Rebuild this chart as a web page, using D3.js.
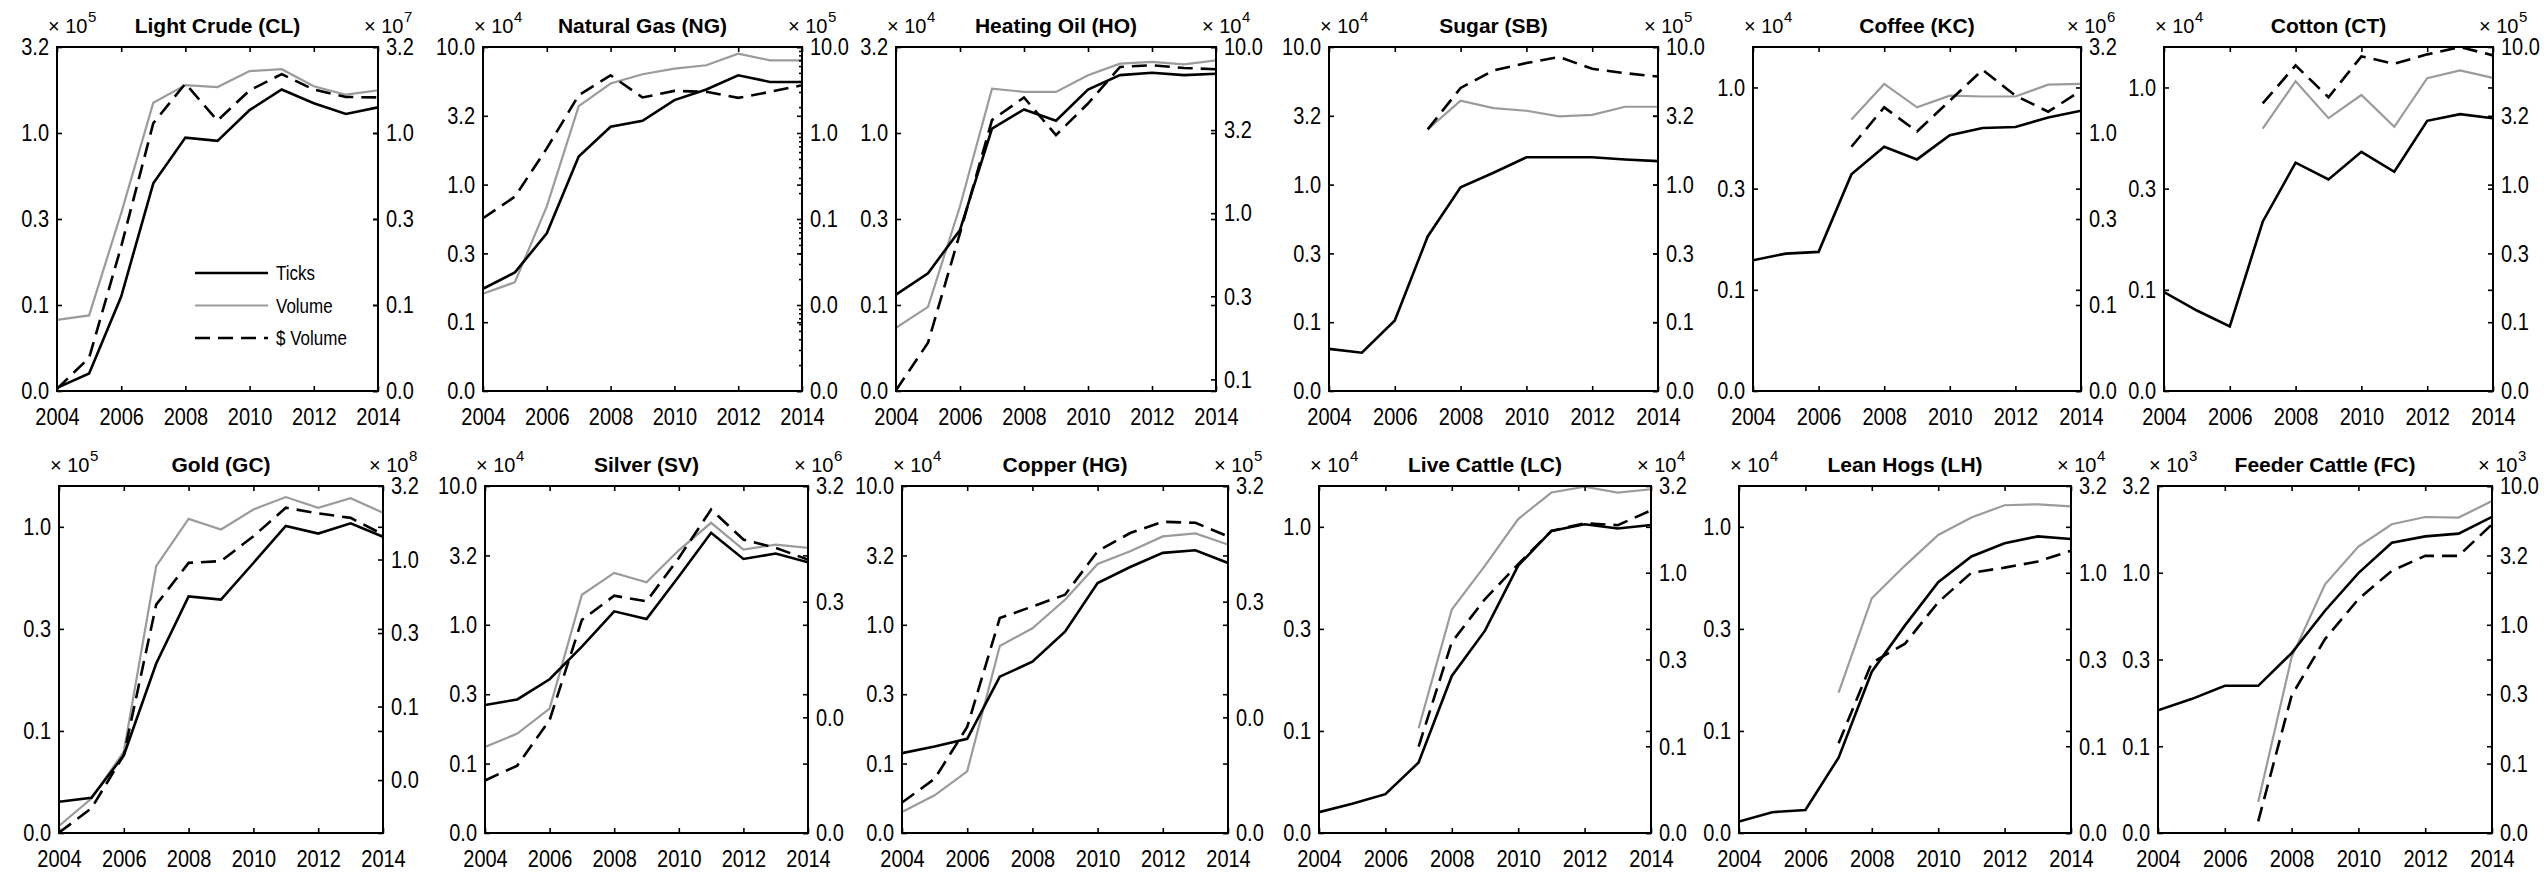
<!DOCTYPE html>
<html>
<head>
<meta charset="utf-8">
<script src="https://cdn.jsdelivr.net/npm/d3@7"></script>
<style>
  body { margin: 0; background: #fff; }
  svg { font-family: "Liberation Sans", Arial, sans-serif; }
  .lbl { transform: scaleY(1.2); transform-box: fill-box; transform-origin: 50% 50%; }
</style>
</head>
<body>
<div id="chart"></div>
<script>
// years on the x axis
const years = d3.range(2004, 2015)
const xTicks = [2004, 2006, 2008, 2010, 2012, 2014]

const titles = ["Light Crude (CL)", "Natural Gas (NG)", "Heating Oil (HO)", "Sugar (SB)", "Coffee (KC)", "Cotton (CT)",
                "Gold (GC)", "Silver (SV)", "Copper (HG)", "Live Cattle (LC)", "Lean Hogs (LH)", "Feeder Cattle (FC)"]

// "x 10^n" multipliers of each axis
const leftPow  = [5, 4, 4, 4, 4, 4, 5, 4, 4, 4, 4, 3]
const rightPow = [7, 5, 4, 5, 6, 5, 8, 6, 5, 4, 4, 3]

// axis limits as log10 of the axis units
const leftLog  = [[-1.5, 0.5], [-1.5, 1], [-1.5, 0.5], [-1.5, 1], [-1.5, 0.2], [-1.5, 0.2],
                  [-1.5, 0.2], [-1.5, 1], [-1.5, 1], [-1.5, 0.2], [-1.5, 0.2], [-1.5, 0.5]]
const rightLog = [[-1.5, 0.5], [-3, 1], [-1.07, 1], [-1.5, 1], [-1.5, 0.5], [-1.5, 1],
                  [-1.86, 0.5], [-2.5, 0.5], [-2.5, 0.5], [-1.5, 0.5], [-1.5, 0.5], [-1.5, 1]]
// spacing of the right tick labels (log10)
const rightStep = [0.5, 1, 0.5, 0.5, 0.5, 0.5, 0.5, 1, 1, 0.5, 0.5, 0.5]

// Ticks (left axis units)
const ticks = [
  [0.033, 0.040, 0.112, 0.51, 0.94, 0.90, 1.36, 1.79, 1.49, 1.29, 1.41],
  [0.175, 0.23, 0.443, 1.60, 2.63, 2.91, 4.11, 4.91, 6.23, 5.57, 5.57],
  [0.115, 0.153, 0.273, 1.06, 1.37, 1.18, 1.79, 2.17, 2.24, 2.17, 2.21],
  [0.064, 0.060, 0.103, 0.42, 0.955, 1.22, 1.58, 1.58, 1.58, 1.52, 1.48],
  [0.140, 0.151, 0.154, 0.372, 0.509, 0.441, 0.581, 0.630, 0.638, 0.711, 0.767],
  [0.0975, 0.079, 0.066, 0.217, 0.425, 0.351, 0.481, 0.383, 0.684, 0.738, 0.705],
  [0.045, 0.047, 0.076, 0.214, 0.456, 0.440, 0.665, 1.01, 0.927, 1.04, 0.894],
  [0.264, 0.290, 0.405, 0.697, 1.25, 1.10, 2.23, 4.60, 2.98, 3.26, 2.82],
  [0.119, 0.133, 0.151, 0.423, 0.542, 0.893, 2.00, 2.61, 3.30, 3.44, 2.79],
  [0.040, 0.044, 0.049, 0.070, 0.186, 0.310, 0.646, 0.955, 1.03, 0.982, 1.02],
  [0.036, 0.040, 0.041, 0.074, 0.195, 0.329, 0.535, 0.716, 0.830, 0.898, 0.871],
  [0.161, 0.187, 0.223, 0.223, 0.344, 0.604, 0.995, 1.49, 1.62, 1.68, 2.10]
]

// Volume (right axis units)
const volume = [
  [0.082, 0.087, 0.342, 1.50, 1.90, 1.85, 2.29, 2.35, 1.87, 1.67, 1.77],
  [0.0135, 0.0184, 0.140, 2.05, 3.76, 4.82, 5.61, 6.13, 8.37, 7.0, 7.0],
  [0.204, 0.273, 1.10, 5.62, 5.37, 5.37, 6.76, 7.94, 8.13, 7.87, 8.32],
  [null, null, null, 2.52, 4.07, 3.60, 3.44, 3.13, 3.21, 3.68, 3.68],
  [null, null, null, 1.20, 1.93, 1.41, 1.65, 1.63, 1.63, 1.91, 1.93],
  [null, null, null, 2.55, 5.64, 3.04, 4.48, 2.63, 5.93, 6.75, 5.97],
  [0.0154, 0.0237, 0.0493, 0.901, 1.89, 1.60, 2.19, 2.66, 2.25, 2.61, 2.08],
  [0.0175, 0.0229, 0.0377, 0.363, 0.560, 0.465, 0.879, 1.52, 0.891, 0.984, 0.923],
  [0.0048, 0.0067, 0.0108, 0.131, 0.186, 0.328, 0.670, 0.863, 1.16, 1.23, 0.986],
  [null, null, null, 0.127, 0.614, 1.10, 2.04, 2.90, 3.13, 2.90, 3.03],
  [null, null, null, 0.204, 0.713, 1.10, 1.65, 2.08, 2.45, 2.48, 2.41],
  [null, null, null, 0.0528, 0.583, 1.96, 3.66, 5.30, 5.98, 5.92, 7.80]
]

// $ Volume (right axis units)
const dollarVolume = [
  [0.0326, 0.0493, 0.219, 1.14, 1.94, 1.18, 1.77, 2.20, 1.79, 1.62, 1.61],
  [0.102, 0.182, 0.662, 2.75, 4.69, 2.59, 3.09, 3.01, 2.56, 3.01, 3.59],
  [0.086, 0.166, 0.759, 3.63, 4.97, 2.95, 4.57, 7.59, 7.76, 7.48, 7.35],
  [null, null, null, 2.52, 5.04, 6.75, 7.64, 8.45, 6.94, 6.45, 6.10],
  [null, null, null, 0.832, 1.41, 1.02, 1.54, 2.33, 1.65, 1.33, 1.76],
  [null, null, null, 3.89, 7.35, 4.31, 8.55, 7.55, 8.84, 10.0, 8.69],
  [0.0139, 0.0203, 0.0468, 0.493, 0.949, 0.975, 1.44, 2.25, 2.06, 1.92, 1.48],
  [0.0090, 0.0121, 0.0299, 0.220, 0.356, 0.318, 0.755, 1.98, 1.09, 0.923, 0.730],
  [0.0058, 0.0093, 0.0261, 0.228, 0.287, 0.363, 0.863, 1.24, 1.55, 1.52, 1.16],
  [null, null, null, 0.0996, 0.398, 0.706, 1.12, 1.74, 1.93, 1.88, 2.29],
  [null, null, null, 0.104, 0.303, 0.390, 0.676, 1.00, 1.07, 1.16, 1.34],
  [null, null, null, 0.0384, 0.309, 0.789, 1.53, 2.45, 3.14, 3.14, 5.30]
]

const legendNames = ["Ticks", "Volume", "$ Volume"]

// plot boxes [left, top, right, bottom]
const boxes = [
  [57, 47, 378, 391], [483, 47, 802, 391], [896, 47, 1216, 391],
  [1329, 47, 1658, 391], [1753, 47, 2081, 391], [2164, 47, 2493, 391],
  [59, 486, 383, 833], [485, 486, 808, 833], [902, 486, 1228, 833],
  [1319, 486, 1651, 833], [1739, 486, 2071, 833], [2158, 486, 2492, 833]
]

const GRAY = "#9b9b9b"
const fmt = d3.format(".1f")

const svg = d3.select("#chart").append("svg")
  .attr("width", 2544)
  .attr("height", 877)
  .style("background", "#fff")

const defs = svg.append("defs")

titles.forEach((title, i) => {
  const [x0, y0, x1, y1] = boxes[i]
  const g = svg.append("g")

  // scales
  const x = d3.scaleLinear().domain([2004, 2014]).range([x0, x1])
  const yL = d3.scaleLog().domain([10 ** leftLog[i][0], 10 ** leftLog[i][1]]).range([y1, y0])
  const yR = d3.scaleLog().domain([10 ** rightLog[i][0], 10 ** rightLog[i][1]]).range([y1, y0])

  const leftTicks = []
  for (let e = leftLog[i][0]; e <= leftLog[i][1] + 1e-6; e += 0.5) leftTicks.push(10 ** e)
  const rightTicks = []
  for (let e = rightLog[i][1]; e >= rightLog[i][0] - 1e-6; e -= rightStep[i]) rightTicks.push(10 ** e)

  // clip
  defs.append("clipPath").attr("id", "clip" + i)
    .append("rect").attr("x", x0).attr("y", y0).attr("width", x1 - x0).attr("height", y1 - y0)

  const lines = g.append("g").attr("clip-path", `url(#clip${i})`)
  const lineL = d3.line().defined(d => d.v != null).x(d => x(d.year)).y(d => yL(d.v))
  const lineR = d3.line().defined(d => d.v != null).x(d => x(d.year)).y(d => yR(d.v))
  const pts = arr => years.map((yr, k) => ({ year: yr, v: arr[k] }))

  lines.append("path").attr("d", lineR(pts(volume[i])))
    .attr("fill", "none").attr("stroke", GRAY).attr("stroke-width", 2.2)
  lines.append("path").attr("d", lineR(pts(dollarVolume[i])))
    .attr("fill", "none").attr("stroke", "#000").attr("stroke-width", 2.6)
    .attr("stroke-dasharray", "15,8")
  lines.append("path").attr("d", lineL(pts(ticks[i])))
    .attr("fill", "none").attr("stroke", "#000").attr("stroke-width", 2.6)

  // axes (MATLAB style, ticks inside)
  const noDomain = a => a.select(".domain").remove()
  g.append("g").attr("transform", `translate(0,${y1})`)
    .call(d3.axisBottom(x).tickValues(xTicks).tickFormat(d3.format("d")).tickSize(-5).tickPadding(18))
    .call(noDomain)
  g.append("g").attr("transform", `translate(0,${y0})`)
    .call(d3.axisTop(x).tickValues(xTicks).tickFormat("").tickSize(-5))
    .call(noDomain)
  g.append("g").attr("transform", `translate(${x0},0)`)
    .call(d3.axisLeft(yL).tickValues(leftTicks).tickFormat(fmt).tickSize(-5).tickPadding(8))
    .call(noDomain)
  g.append("g").attr("transform", `translate(${x1},0)`)
    .call(d3.axisRight(yL).tickValues(leftTicks).tickFormat("").tickSize(-5))
    .call(noDomain)
  g.append("g").attr("transform", `translate(${x1},0)`)
    .call(d3.axisRight(yR).tickValues(rightTicks).tickFormat(fmt).tickSize(-5).tickPadding(8))
    .call(noDomain)

  // minor log ticks where the right axis runs in whole decades
  if (rightStep[i] === 1 && Number.isInteger(rightLog[i][0])) {
    const minor = []
    for (let e = rightLog[i][0]; e < rightLog[i][1]; e++)
      for (let k = 2; k < 10; k++) minor.push(k * 10 ** e)
    g.append("g").attr("transform", `translate(${x1},0)`)
      .call(d3.axisRight(yR).tickValues(minor).tickFormat("").tickSize(-3))
      .call(noDomain)
  }

  g.selectAll(".tick line").attr("stroke", "#000").attr("stroke-width", 1.6)
  g.selectAll(".tick text")
    .attr("class", "lbl")
    .attr("fill", "#000")
    .style("font-size", "20px")
    .style("font-family", "'Liberation Sans', Arial, sans-serif")

  // frame
  g.append("rect")
    .attr("x", x0).attr("y", y0).attr("width", x1 - x0).attr("height", y1 - y0)
    .attr("fill", "none").attr("stroke", "#000").attr("stroke-width", 2)

  // title
  g.append("text")
    .attr("x", (x0 + x1) / 2).attr("y", y0 - 14)
    .attr("text-anchor", "middle")
    .attr("font-size", "21px").attr("font-weight", "bold")
    .text(title)

  // x 10^n labels: base and exponent as separate texts
  const mult = (xp, p) => {
    g.append("text").attr("x", xp).attr("y", y0 - 14)
      .attr("font-size", "20px")
      .text("\u00d7 10")
    g.append("text").attr("x", xp + 40).attr("y", y0 - 25)
      .attr("font-size", "15px")
      .text(p)
  }
  mult(x0 - 9, leftPow[i])
  mult(x1 - 14, rightPow[i])

  // legend in the first panel
  if (i === 0) {
    const styles = [
      { stroke: "#000", dash: null, w: 2.6 },
      { stroke: GRAY, dash: null, w: 2.2 },
      { stroke: "#000", dash: "15,8", w: 2.6 }
    ]
    legendNames.forEach((name, k) => {
      const ly = 273 + k * 32.5
      g.append("line")
        .attr("x1", 195).attr("x2", 268).attr("y1", ly).attr("y2", ly)
        .attr("stroke", styles[k].stroke).attr("stroke-width", styles[k].w)
        .attr("stroke-dasharray", styles[k].dash)
      g.append("text")
        .attr("class", "lbl")
        .attr("x", 276).attr("y", ly).attr("dy", "0.35em")
        .attr("font-size", "17px")
        .text(name)
    })
  }
})
</script>
</body>
</html>
